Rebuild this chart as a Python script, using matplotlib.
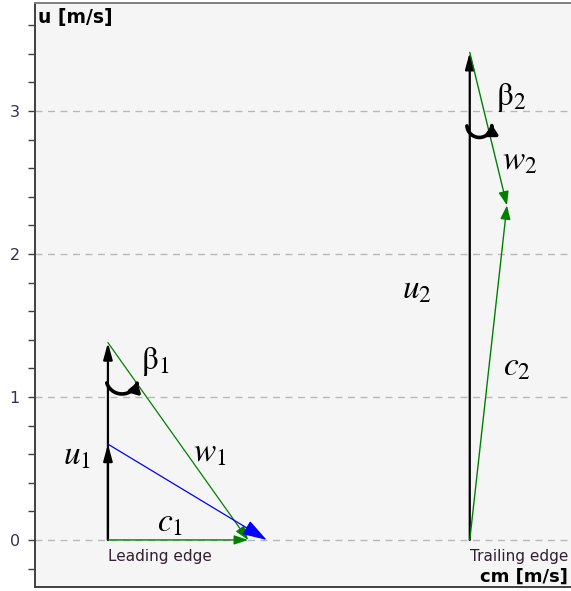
import numpy as np
import matplotlib
matplotlib.use("Agg")
import matplotlib.pyplot as plt
from matplotlib.path import Path
from matplotlib.patches import FancyArrowPatch
from matplotlib.ticker import MultipleLocator, FixedLocator

plt.rcParams['mathtext.fontset'] = 'stix'

# velocity triangles, values in m/s
le_x = 0.0          # leading edge origin on cm axis
te_x = 2.53         # trailing edge origin on cm axis

u1 = 1.38           # blade speed, leading edge
u1_inner = 0.67     # lower point on u1 where the blue vector starts
cm1 = 0.98          # end of c1 / w1
cm1_blue = 1.11     # end of the blue vector

u2 = 3.41           # blade speed, trailing edge
c2_end = (0.26, 2.34)   # tip of c2 / w2 relative to trailing origin

y_major = [0, 1, 2, 3]

fig = plt.figure(figsize=(5.71, 5.91), dpi=100)
ax = fig.add_axes([0.0613, 0.0068, 0.95, 0.988])
ax.set_facecolor('#f5f5f5')
ax.set_xlim(-0.51, 3.283)
ax.set_ylim(-0.329, 3.755)

for yv in y_major:
    ax.axhline(yv, color='#b8b8b8', lw=1, ls=(0, (5, 4)), zorder=0)


def arrow(p0, p1, color, lw=1.0, hl=0.6, hw=0.25, ms=18, z=3):
    ax.annotate('', xy=p1, xytext=p0,
                arrowprops=dict(arrowstyle='-|>,head_length=%g,head_width=%g' % (hl, hw),
                                color=color, lw=lw, shrinkA=0, shrinkB=0,
                                mutation_scale=ms), zorder=z)


def angle_arc(center, r, a0, a1):
    t = np.radians(np.linspace(a0, a1, 40))
    verts = np.column_stack([center[0] + r * np.cos(t), center[1] + r * np.sin(t)])
    p = FancyArrowPatch(path=Path(verts), arrowstyle='-|>,head_length=0.45,head_width=0.3',
                        mutation_scale=12, color='black', lw=2.6, zorder=5)
    ax.add_patch(p)


# leading edge triangle
arrow((le_x, 0), (le_x, u1), 'black', lw=1.6, hl=0.55, hw=0.15)
arrow((le_x, 0), (le_x, u1_inner), 'black', lw=1.6, hl=0.55, hw=0.15)
arrow((le_x, 0), (le_x + cm1, 0), '#008000', lw=1.0, hl=0.6, hw=0.2, ms=14)
arrow((le_x, u1), (le_x + cm1, 0), '#008000', lw=0.9, hl=0.6, hw=0.22, ms=14)
arrow((le_x, u1_inner), (le_x + cm1_blue, 0), '#0000ff', lw=0.9, hl=0.95, hw=0.3, ms=16)

# trailing edge triangle
c2x, c2y = te_x + c2_end[0], c2_end[1]
arrow((te_x, 0), (te_x, u2), 'black', lw=1.6, hl=0.55, hw=0.15)
arrow((te_x, 0), (c2x, c2y), '#008000', lw=1.0, hl=0.6, hw=0.22, ms=14)
arrow((te_x, u2), (c2x, c2y), '#008000', lw=1.0, hl=0.6, hw=0.22, ms=14)

# flow angle markers
angle_arc((0.098, 1.133), 0.112, 198, 345)
angle_arc((2.597, 2.902), 0.087, 184, 362)

lbl = dict(fontsize=24, ha='center', va='center', color='black')
ax.text(-0.217, 0.594, r'$u_1$', **lbl)
ax.text(0.713, 0.615, r'$w_1$', **lbl)
ax.text(0.434, 0.126, r'$c_1$', **lbl)
ax.text(0.329, 1.245, r'$\mathrm{\beta}_1$', **lbl)
ax.text(2.161, 1.755, r'$u_2$', **lbl)
ax.text(2.860, 1.217, r'$c_2$', **lbl)
ax.text(2.818, 3.098, r'$\mathrm{\beta}_2$', **lbl)
ax.text(2.881, 2.657, r'$w_2$', **lbl)

ax.text(le_x, -0.06, 'Leading edge', fontsize=11, color='#302030',
        ha='left', va='top')
ax.text(te_x, -0.06, 'Trailing edge', fontsize=11, color='#302030',
        ha='left', va='top', clip_on=False)

ax.text(0.006, 0.992, 'u [m/s]', transform=ax.transAxes, fontsize=13.5,
        fontweight='bold', ha='left', va='top')
ax.text(568 / 571, 5 / 591, 'cm [m/s]', transform=fig.transFigure, fontsize=13,
        fontweight='bold', ha='right', va='bottom')

ax.yaxis.set_major_locator(FixedLocator(y_major))
ax.yaxis.set_minor_locator(MultipleLocator(0.2))
ax.tick_params(axis='y', which='both', length=5, width=1, color='#404040',
               labelsize=11.5, labelcolor='#303058', pad=6)
ax.set_xticks([])

ax.spines['right'].set_visible(False)
ax.spines['left'].set_color('#404040')
ax.spines['bottom'].set_color('#404040')
ax.spines['top'].set_color('#808080')
for s in ['left', 'bottom', 'top']:
    ax.spines[s].set_linewidth(1.4)

fig.savefig('out.png', dpi=100)
